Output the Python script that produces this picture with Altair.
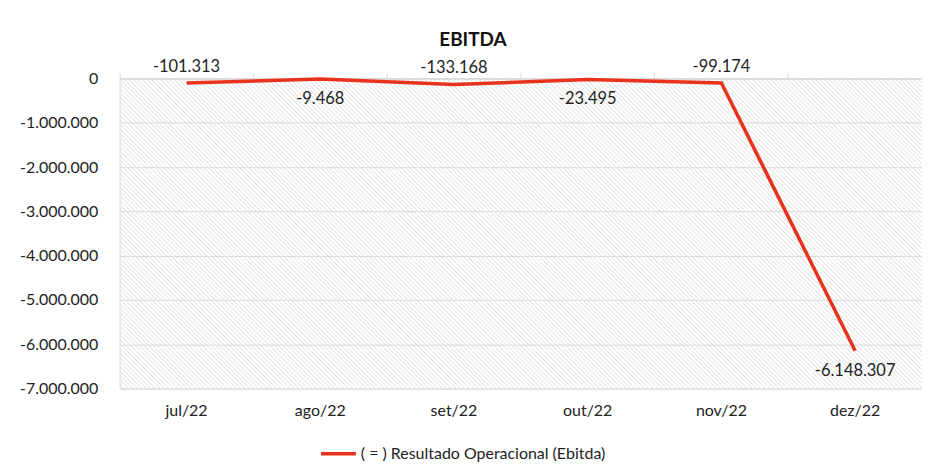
import altair as alt
import pandas as pd

months = ["jul/22", "ago/22", "set/22", "out/22", "nov/22", "dez/22"]
values = [-101313, -9468, -133168, -23495, -99174, -6148307]
series_name = "( = ) Resultado Operacional (Ebitda)"
y_ticks = [-7000000, -6000000, -5000000, -4000000, -3000000, -2000000, -1000000, 0]

df = pd.DataFrame({"month": months, "value": values, "serie": [series_name] * len(months)})

W, H = 805, 311
RED = "#e8321e"
FONT = "Lato"
GRID = "#d9d9d9"
HATCH = "#dcdcdc"

fmt = "replace(replace(format(%s, ',d'), regexp(',', 'g'), '.'), '\u2212', '-')"

xscale = alt.Scale(type="band", domain=months, paddingInner=0, paddingOuter=0)
yscale = alt.Scale(domain=[-7000000, 0], nice=False)

base = alt.Chart(df)

# diagonal hatch of the plot background (decoration only)
bg = alt.Chart(alt.sequence(0, W + H + 5, 4.5, as_="k")).transform_calculate(
    xa="datum.k - height", xb="datum.k"
).mark_rule(clip=True, color=HATCH, strokeWidth=1).encode(
    x=alt.X("xa:Q", scale=None, axis=None),
    x2="xb:Q",
    y=alt.value(0),
    y2=alt.value("height"),
)

line = base.mark_line(strokeWidth=3.5, interpolate="linear").encode(
    x=alt.X("month:N", sort=months, title=None, scale=xscale,
            axis=alt.Axis(orient="bottom", domain=False, ticks=False, tickSize=0,
                          labelPadding=14, labelAngle=0, labelFontSize=16,
                          labelFont=FONT, labelColor="#222222")),
    y=alt.Y("value:Q", title=None, scale=yscale,
            axis=alt.Axis(values=y_ticks, grid=True, gridColor=GRID, gridWidth=1,
                          domain=False, ticks=False, labelPadding=22,
                          labelFontSize=16, labelFont=FONT, labelColor="#222222",
                          labelExpr=fmt % "datum.value")),
    color=alt.Color("serie:N", scale=alt.Scale(range=[RED]),
                    legend=alt.Legend(title=None, orient="none", legendX=200, legendY=357,
                                      symbolType="stroke", symbolSize=1225,
                                      symbolStrokeWidth=3.5, labelFontSize=16,
                                      labelFont=FONT, labelColor="#222222",
                                      labelLimit=600, labelOffset=3)),
)

labels = base.transform_window(idx="row_number()").transform_calculate(
    lab=fmt % "datum.value"
)

above = labels.transform_filter("datum.idx % 2 == 1").mark_text(
    dy=-16, fontSize=16.5, font=FONT, color="#222222", baseline="middle"
).encode(
    x=alt.X("month:N", sort=months, title=None, scale=xscale,
            axis=alt.Axis(orient="top", labels=False, ticks=True, tickSize=6,
                          tickColor=GRID, domain=True, domainColor=GRID,
                          bandPosition=0, grid=False)),
    y=alt.Y("value:Q", axis=None, scale=yscale),
    text="lab:N",
)

below = labels.transform_filter("datum.idx % 2 == 0").mark_text(
    dy=20, fontSize=16.5, font=FONT, color="#222222", baseline="middle"
).encode(
    x=alt.X("month:N", sort=months, axis=None, scale=xscale),
    y=alt.Y("value:Q", axis=None, scale=yscale),
    text="lab:N",
)

chart = alt.layer(bg, line, above, below).resolve_scale(
    x="independent"
).resolve_axis(x="independent", y="independent").properties(
    width=W,
    height=H,
    padding={"left": 112, "top": 70, "right": 0, "bottom": 76},
    autosize=alt.AutoSizeParams(type="none"),
    title=alt.TitleParams("EBITDA", anchor="middle", dx=-48, offset=9, fontSize=19,
                          font=FONT, fontWeight="bold", color="#111111"),
).configure_view(
    stroke=None
).configure(background="white")

chart.save("out.html", embed_options={"renderer": "svg", "actions": False})
